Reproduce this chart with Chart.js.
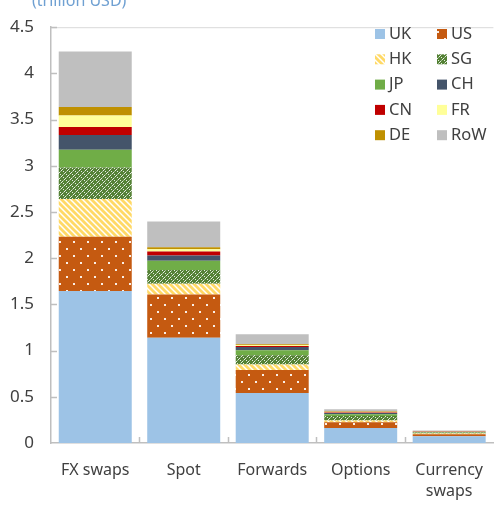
<!DOCTYPE html>
<html>
<head>
<meta charset="utf-8">
<script src="https://cdn.jsdelivr.net/npm/chart.js@4.4.1/dist/chart.umd.min.js"></script>
<style>
  html, body { margin: 0; padding: 0; overflow: hidden; background: #fff; }
  canvas { display: block; }
</style>
</head>
<body>
<canvas id="grafico" width="500" height="505"></canvas>
<script>
// Dados (trilhões de USD)
const categorias = ['FX swaps', 'Spot', 'Forwards', 'Options', ['Currency', 'swaps']];
const paises = ['UK', 'US', 'HK', 'SG', 'JP', 'CH', 'CN', 'FR', 'DE', 'RoW'];
const valoresUK  = [1.646, 1.138, 0.540, 0.162, 0.074];
const valoresUS  = [0.587, 0.470, 0.250, 0.063, 0.020];
const valoresHK  = [0.407, 0.115, 0.060, 0.018, 0.010];
const valoresSG  = [0.341, 0.150, 0.100, 0.050, 0.006];
const valoresJP  = [0.194, 0.100, 0.055, 0.018, 0.006];
const valoresCH  = [0.158, 0.055, 0.035, 0.015, 0.003];
const valoresCN  = [0.087, 0.045, 0.010, 0.005, 0.002];
const valoresFR  = [0.125, 0.025, 0.010, 0.005, 0.002];
const valoresDE  = [0.091, 0.020, 0.008, 0.005, 0.002];
const valoresRoW = [0.600, 0.280, 0.110, 0.025, 0.010];
const valoresEixoY = [0, 4.5, 0.5]; // min, max, passo

const corTexto = '#404040';
const corEixo = '#BFBFBF';
const fonte = "'Noto Sans', 'Open Sans', sans-serif";

const canvas = document.getElementById('grafico');
const ctx = canvas.getContext('2d');

// Padrões de preenchimento
function padraoPontos(fundo) {
  const t = document.createElement('canvas');
  t.width = 14; t.height = 14;
  const g = t.getContext('2d');
  g.fillStyle = fundo;
  g.fillRect(0, 0, 14, 14);
  g.fillStyle = 'rgba(255,255,255,0.9)';
  g.fillRect(3, 3, 2, 2);
  g.fillRect(10, 10, 2, 2);
  return ctx.createPattern(t, 'repeat');
}

function padraoListras(cor) {
  const t = document.createElement('canvas');
  t.width = 6; t.height = 6;
  const g = t.getContext('2d');
  g.fillStyle = '#ffffff';
  g.fillRect(0, 0, 6, 6);
  g.strokeStyle = cor;
  g.lineWidth = 2.8;
  g.beginPath();
  g.moveTo(-3, -3); g.lineTo(9, 9);
  g.moveTo(-6, 0); g.lineTo(6, 12);
  g.moveTo(0, -6); g.lineTo(12, 6);
  g.stroke();
  return ctx.createPattern(t, 'repeat');
}

function padraoXadrez(fundo) {
  const t = document.createElement('canvas');
  t.width = 6; t.height = 6;
  const g = t.getContext('2d');
  g.fillStyle = fundo;
  g.fillRect(0, 0, 6, 6);
  g.fillStyle = 'rgba(255,255,255,0.85)';
  g.fillRect(0, 0, 1, 1);
  g.fillRect(2, 1, 1, 1);
  g.fillRect(1, 2, 1, 1);
  g.fillRect(3, 3, 1, 1);
  g.fillRect(5, 4, 1, 1);
  g.fillRect(4, 5, 1, 1);
  g.fillStyle = 'rgba(255,255,255,0.45)';
  g.fillRect(3, 0, 1, 1);
  g.fillRect(0, 3, 1, 1);
  return ctx.createPattern(t, 'repeat');
}

const cores = [
  '#9DC3E6',
  padraoPontos('#C55A11'),
  padraoListras('#FFD966'),
  padraoXadrez('#548235'),
  '#70AD47',
  '#44546A',
  '#C00000',
  '#FFFF99',
  '#BF9000',
  '#BFBFBF'
];

const series = [valoresUK, valoresUS, valoresHK, valoresSG, valoresJP,
                valoresCH, valoresCN, valoresFR, valoresDE, valoresRoW];

const datasets = paises.map((pais, i) => ({
  label: pais,
  data: series[i],
  backgroundColor: cores[i],
  borderWidth: 0,
  categoryPercentage: 1,
  barPercentage: 0.825
}));

// Título, legenda, bordas e marcas internas
const extras = {
  id: 'extras',
  afterDraw(chart) {
    const c = chart.ctx;
    const area = chart.chartArea;
    const x = chart.scales.x;
    const y = chart.scales.y;
    c.save();

    // título (cortado no topo)
    c.fillStyle = '#6FA0D2';
    c.font = '16px ' + fonte;
    c.textBaseline = 'alphabetic';
    c.textAlign = 'left';
    c.fillText('(trillion USD)', 32, 6);

    // borda superior
    c.strokeStyle = '#D9D9D9';
    c.lineWidth = 1;
    c.beginPath();
    c.moveTo(area.left, area.top + 0.5);
    c.lineTo(area.right, area.top + 0.5);
    c.stroke();

    // marcas do eixo y (para dentro)
    c.strokeStyle = corEixo;
    c.lineWidth = 1.5;
    y.ticks.forEach(t => {
      if (t.value === 0) return;
      const py = Math.round(y.getPixelForValue(t.value)) + 0.5;
      c.beginPath();
      c.moveTo(area.left, py);
      c.lineTo(area.left + 6, py);
      c.stroke();
    });

    // marcas do eixo x entre categorias
    const banda = x.getPixelForValue(1) - x.getPixelForValue(0);
    for (let i = 1; i < categorias.length; i++) {
      const px = Math.round(x.getPixelForValue(i) - banda / 2) + 0.5;
      c.beginPath();
      c.moveTo(px, area.bottom);
      c.lineTo(px, area.bottom - 6);
      c.stroke();
    }

    // legenda em duas colunas
    c.font = '16.5px ' + fonte;
    c.textBaseline = 'middle';
    chart.data.datasets.forEach((ds, i) => {
      const col = i % 2;
      const lin = Math.floor(i / 2);
      const lx = col === 0 ? 375 : 437;
      const ly = 34 + lin * 25.3;
      c.fillStyle = ds.backgroundColor;
      c.fillRect(lx, ly - 5, 10, 10);
      c.fillStyle = corTexto;
      c.fillText(ds.label, lx + 14, ly);
    });

    c.restore();
  }
};

new Chart(ctx, {
  type: 'bar',
  data: {
    labels: categorias,
    datasets: datasets
  },
  options: {
    responsive: false,
    animation: false,
    devicePixelRatio: 1,
    layout: {
      padding: { top: 17, right: 0, left: 0, bottom: 0 }
    },
    plugins: {
      legend: { display: false },
      title: { display: false },
      tooltip: { enabled: false }
    },
    scales: {
      x: {
        stacked: true,
        grid: { display: false, drawTicks: false },
        border: { display: true, color: corEixo, width: 1.5 },
        ticks: {
          color: corTexto,
          font: { family: fonte, size: 16, lineHeight: 1.3 },
          padding: 17,
          maxRotation: 0,
          autoSkip: false
        },
        afterFit(scale) {
          scale.height = 62;
        }
      },
      y: {
        stacked: true,
        min: valoresEixoY[0],
        max: valoresEixoY[1],
        grid: { display: false, drawTicks: false },
        border: { display: true, color: corEixo, width: 1.5 },
        ticks: {
          stepSize: valoresEixoY[2],
          color: corTexto,
          font: { family: fonte, size: 17 },
          padding: 17,
          callback: function(value) {
            return String(Number(value.toFixed(1)));
          }
        },
        afterFit(scale) {
          scale.width = 51;
        }
      }
    }
  },
  plugins: [extras]
});
</script>
</body>
</html>
